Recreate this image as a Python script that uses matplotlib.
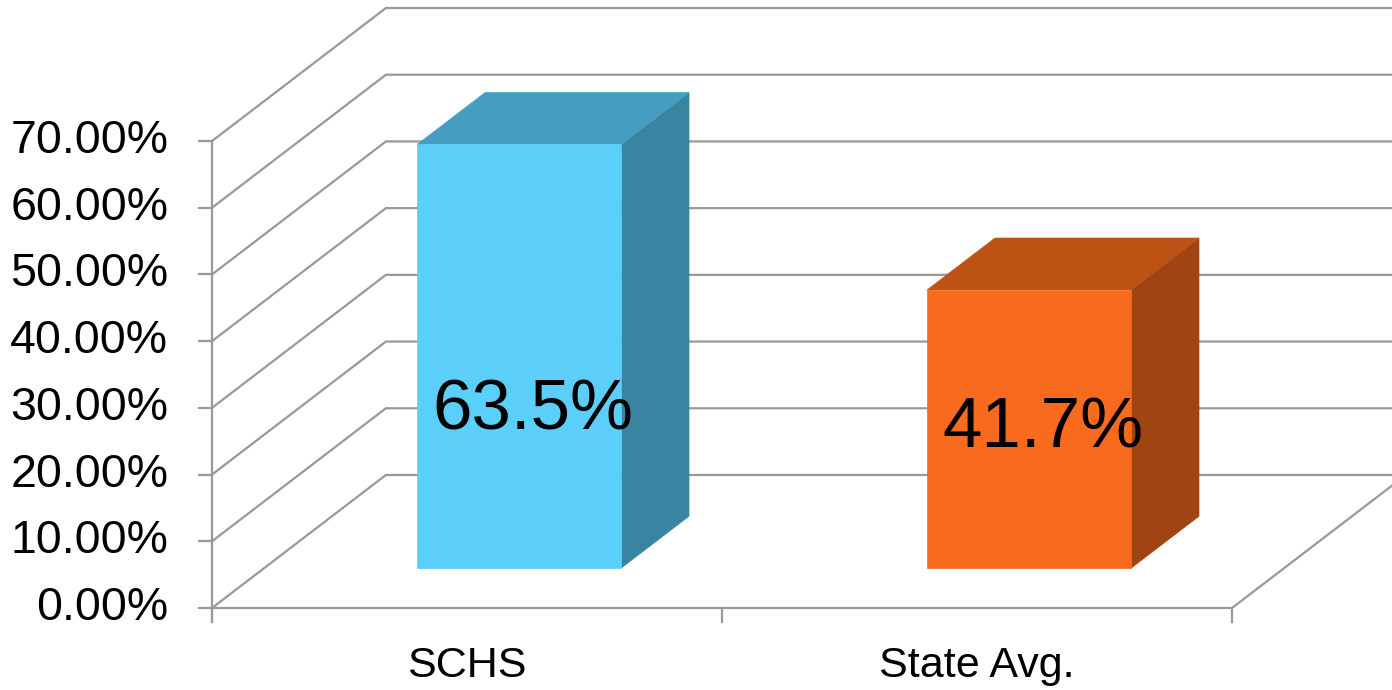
import numpy as np
import matplotlib.pyplot as plt
from matplotlib.patches import Polygon

categories = ['SCHS', 'State Avg.']
values = [63.5, 41.7]
value_labels = ['63.5%', '41.7%']
yticks = [0, 10, 20, 30, 40, 50, 60, 70]
tick_labels = ['%.2f%%' % t for t in yticks]

# colours: front, top, side
bar_colors = [('#5BCEFA', '#459EC1', '#3984A1'),
              ('#F86B1E', '#BD5215', '#A04413')]
grid_col = '#999999'

# fake 3D: depth vector in data units (category units, percent units)
DX, DY = 0.341, 19.94
d0, d1 = 0.30, 0.69      # bar depth span as fraction of full depth
bw = 0.4                 # bar width in category units
label_y = [29.4, 26.8]   # where the data labels sit (percent)

plt.rcParams['font.family'] = ['Liberation Sans', 'DejaVu Sans']

fig = plt.figure(figsize=(13.92, 6.90), dpi=100)
ax = fig.add_axes([0, 0, 1, 1])
ax.set_xlim(-212 / 510, (1392 - 212) / 510)
ax.set_ylim(-82 / 6.671, (690 - 82) / 6.671)
ax.axis('off')

n = len(categories)
lw = 1.6

# walls: gridlines on left wall and back wall
for t in yticks:
    ax.plot([0, DX, n + DX], [t, t + DY, t + DY], color=grid_col, lw=lw,
            solid_joinstyle='miter', zorder=1)
    ax.plot([-0.026, 0], [t, t], color=grid_col, lw=lw, zorder=1)

# front vertical axis
ax.plot([0, 0], [-2.1, yticks[-1]], color=grid_col, lw=lw, zorder=1)
# floor front edge and right edge
ax.plot([0, n, n + DX], [0, 0, DY], color=grid_col, lw=lw, zorder=1)
for i in range(n + 1):
    ax.plot([i, i], [0, -2.1], color=grid_col, lw=lw, zorder=1)

for t, lab in zip(yticks, tick_labels):
    ax.text(-0.086, t, lab, ha='right', va='center', fontsize=33.5, color='black')

for i, (cat, v) in enumerate(zip(categories, values)):
    fc, tc, sc = bar_colors[i]
    x0 = i + 0.5 - bw / 2
    x1 = i + 0.5 + bw / 2
    ox0, oy0 = d0 * DX, d0 * DY
    ox1, oy1 = d1 * DX, d1 * DY
    front = [(x0 + ox0, oy0), (x1 + ox0, oy0), (x1 + ox0, v + oy0), (x0 + ox0, v + oy0)]
    top = [(x0 + ox0, v + oy0), (x1 + ox0, v + oy0), (x1 + ox1, v + oy1), (x0 + ox1, v + oy1)]
    side = [(x1 + ox0, oy0), (x1 + ox1, oy1), (x1 + ox1, v + oy1), (x1 + ox0, v + oy0)]
    for pts, c in [(side, sc), (top, tc), (front, fc)]:
        ax.add_patch(Polygon(pts, closed=True, facecolor=c, edgecolor=c, lw=0.5, zorder=3))
    ax.text(i + 0.5 + 0.38 * DX, label_y[i], value_labels[i], ha='center', va='center',
            fontsize=51, color='black', zorder=5)
    ax.text(i + 0.5, -8.7, cat, ha='center', va='center', fontsize=31, color='black')

fig.savefig('out.png', dpi=100)
